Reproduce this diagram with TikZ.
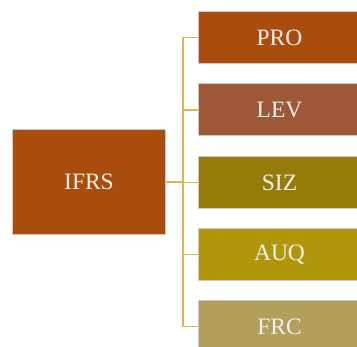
\documentclass[tikz,border=0pt]{standalone}
\usepackage{fontspec}
\setmainfont{Liberation Serif}
\usetikzlibrary{calc}
\definecolor{rust}{HTML}{A94C0E}
\definecolor{levc}{HTML}{9D5937}
\definecolor{sizc}{HTML}{957C0A}
\definecolor{auqc}{HTML}{B1960C}
\definecolor{frcc}{HTML}{B29F5C}
\definecolor{linec}{HTML}{E0B64A}
\definecolor{edgec}{HTML}{CCC8C5}
\definecolor{txtc}{HTML}{F4F1EC}
\tikzset{
  boxstyle/.style={rectangle, draw=edgec, line width=1pt, text=txtc,
    font=\fontsize{23.5}{25}\selectfont, inner sep=0pt},
  childbox/.style={boxstyle, anchor=north west, minimum width=162pt, minimum height=52pt},
  conn/.style={draw=linec, line width=1.4pt}
}
\begin{document}
\begin{tikzpicture}[x=1pt,y=-1pt]
\useasboundingbox (0,0) rectangle (357,347);
\clip (0,0) rectangle (357,347);
\node[boxstyle, anchor=north west, minimum width=153pt, minimum height=105pt, fill=rust] (ifrs) at (12,129) {IFRS};
\node[childbox, fill=rust] (pro) at (198,11) {PRO};
\node[childbox, fill=levc] (lev) at (198,83.5) {LEV};
\node[childbox, fill=sizc] (siz) at (198,156) {SIZ};
\node[childbox, fill=auqc] (auq) at (198,228) {AUQ};
\node[childbox, fill=frcc] (frc) at (198,300) {FRC};
\coordinate (hub) at ($(ifrs.east)+(17,0)$);
\draw[conn] (ifrs.east) -- (hub);
\draw[conn] (hub) |- (pro.west);
\draw[conn] (hub) |- (lev.west);
\draw[conn] (hub) |- (siz.west);
\draw[conn] (hub) |- (auq.west);
\draw[conn] (hub) |- (frc.west);
\end{tikzpicture}
\end{document}
